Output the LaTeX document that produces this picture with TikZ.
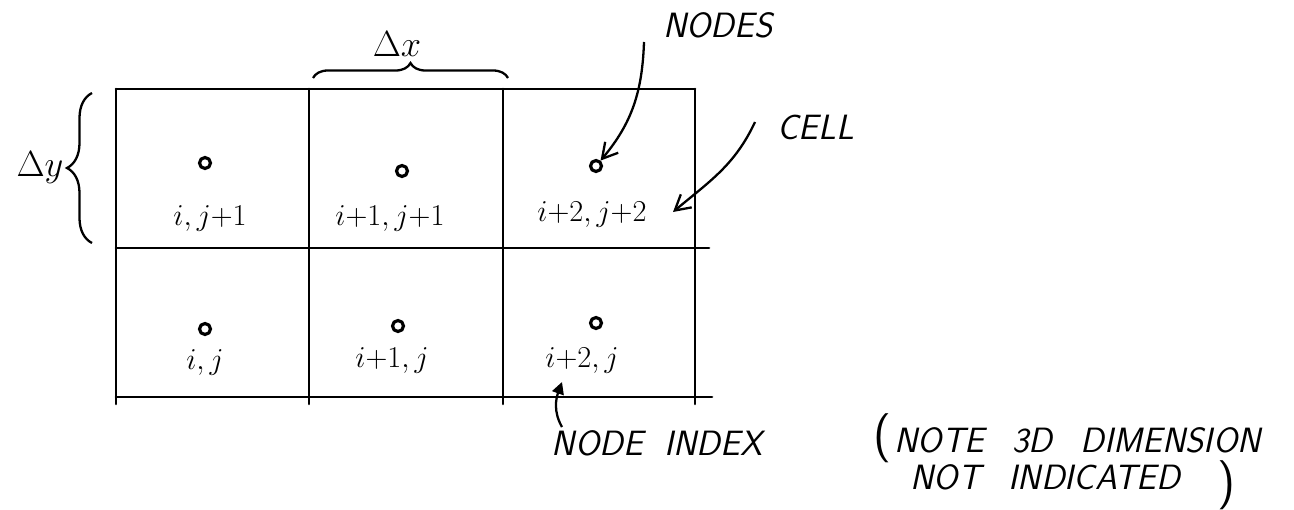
\documentclass[tikz,border=0pt]{standalone}
\usepackage{amsmath}
\usetikzlibrary{arrows.meta, decorations.pathreplacing, positioning}

\begin{document}
\begin{tikzpicture}[x=0.02cm, y=-0.02cm, >={Straight Barb[length=3mm,width=3.4mm]},
		grid/.style={line width=1.5pt, line cap=round},
		pt/.style={circle, draw, line width=1.8pt, inner sep=0pt, minimum size=0.22cm},
		idx/.style={font=\fontsize{18}{20}\selectfont, inner sep=1pt},
		note/.style={font=\sffamily\itshape\fontsize{20}{24}\selectfont, inner sep=0pt},
		bigparen/.style={font=\sffamily\fontsize{28}{28}\selectfont, inner sep=0pt},
		brc/.style={decorate, decoration={brace, amplitude=#1}, line width=1.3pt},
		pointer/.style={->, line width=1.3pt}]
			\useasboundingbox (0,0) rectangle (1294,510);
			\draw[grid] (116,89) -- (695,89);
			\draw[grid] (116,248) -- (709,248);
			\draw[grid] (116,397) -- (712,397);
			\foreach \x in {116,309,503,695} \draw[grid] (\x,89) -- (\x,404);
			\foreach \name/\x/\y in {11/205/329, 21/398/326, 31/596/323, 12/205/163, 22/402/171, 32/596/166}
			\node[pt] (n\name) at (\x,\y) {};
			\node[idx] (l12) at (210,218) {$i,j{+}1$};
			\node[idx] (l22) at (390,218) {$i{+}1,j{+}1$};
			\node[idx] (l32) at (592,214) {$i{+}2,j{+}2$};
			\node[idx] (l11) at (205,362) {$i,j$};
			\node[idx] (l21) at (392,360) {$i{+}1,j$};
			\node[idx] (l31) at (582,360) {$i{+}2,j$};
			\node[idx, font=\fontsize{20}{22}\selectfont] (dx) at (397,44) {$\Delta x$};
			\draw[brc=0.3cm] (313,78) -- (508,78);
			\node[idx, font=\fontsize{20}{22}\selectfont] (dy) at (40,168) {$\Delta y$};
			\draw[brc=0.5cm] (92,243) -- (92,93);
			\node[note] (nodes) at (718,25) {NODES};
			\coordinate (nodestail) at (644,42);
			\draw[pointer] (nodestail) to[out=-92, in=50] (n32);
			\node[note] (cell) at (816,127) {CELL};
			\coordinate (celltail) at (755,122);
			\coordinate (celltip) at (673,212);
			\draw[pointer] (celltail) to[out=-115, in=40] (celltip);
			\node[note] (index) at (657,443) {NODE\hspace{0.6em}INDEX};
			\coordinate (idxtail) at (562,427);
			\coordinate (idxtip) at (562,382);
			\draw[line width=1.3pt, -{Triangle[length=2.4mm,width=2.4mm]}] (idxtail) to[out=120, in=-110] (idxtip);
			\node[bigparen] (lparen) at (882,438) {(};
			\node[note, anchor=west] (note1) at (894,440) {NOTE\hspace{0.8em}3D\hspace{0.8em}DIMENSION};
			\node[note, anchor=west] (note2) at (910,477) {NOT\hspace{0.8em}INDICATED};
			\node[bigparen] (rparen) at (1226,485) {)};
		\end{tikzpicture}
\end{document}
